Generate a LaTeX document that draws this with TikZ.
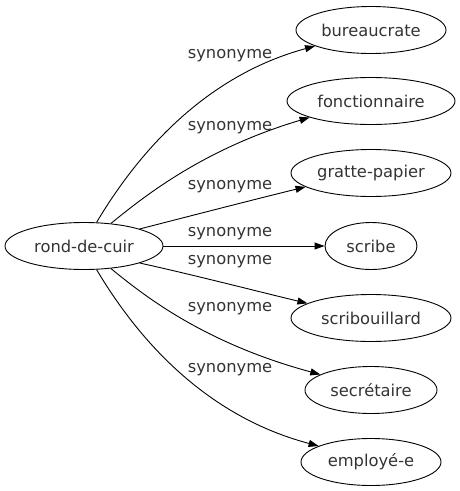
\documentclass[tikz,border=0pt]{standalone}
\usepackage{fontspec}
\setmainfont{DejaVu Sans}
\usetikzlibrary{shapes.geometric,arrows.meta}
\begin{document}
\begin{tikzpicture}[x=1pt,y=-1pt,
  every node/.style={font=\fontsize{16.3}{19}\selectfont, text=black!80},
  wnode/.style={draw, ellipse, line width=0.9pt, inner sep=0pt, minimum height=47pt},
  elabel/.style={inner sep=0pt},
  edge/.style={line width=0.9pt, -{Triangle[length=10pt,width=7pt]}}]
\useasboundingbox (0,0) rectangle (460,491);
\node[wnode, minimum width=158pt] (src) at (84,246) {rond-de-cuir};
\node[wnode, minimum width=150pt] (t1) at (371,30) {bureaucrate};
\node[wnode, minimum width=168pt] (t2) at (371,101) {fonctionnaire};
\node[wnode, minimum width=160pt] (t3) at (371,173) {gratte-papier};
\node[wnode, minimum width=92pt] (t4) at (371,246) {scribe};
\node[wnode, minimum width=160pt] (t5) at (371,318) {scribouillard};
\node[wnode, minimum width=132pt] (t6) at (371,390) {secrétaire};
\node[wnode, minimum width=140pt] (t7) at (371,462) {employé-e};
\node[elabel] (l1) at (230,56) {synonyme};
\node[elabel] (l2) at (230,128) {synonyme};
\node[elabel] (l3) at (230,187) {synonyme};
\node[elabel] (l4) at (230,234) {synonyme};
\node[elabel] (l5) at (230,262) {synonyme};
\node[elabel] (l6) at (230,309) {synonyme};
\node[elabel] (l7) at (230,370) {synonyme};
\draw[edge] (src.62) .. controls (125,175) and (190,80) .. (t1.196);
\draw[edge] (src.40) .. controls (140,200) and (200,150) .. (t2.195);
\draw[edge] (src.17) .. controls (190,216) and (260,198) .. (t3.192);
\draw[edge] (src.east) -- (t4.west);
\draw[edge] (src.-17) .. controls (190,274) and (260,292) .. (t5.167);
\draw[edge] (src.-40) .. controls (140,292) and (200,342) .. (t6.163);
\draw[edge] (src.-62) .. controls (125,317) and (190,412) .. (t7.163);
\end{tikzpicture}
\end{document}
